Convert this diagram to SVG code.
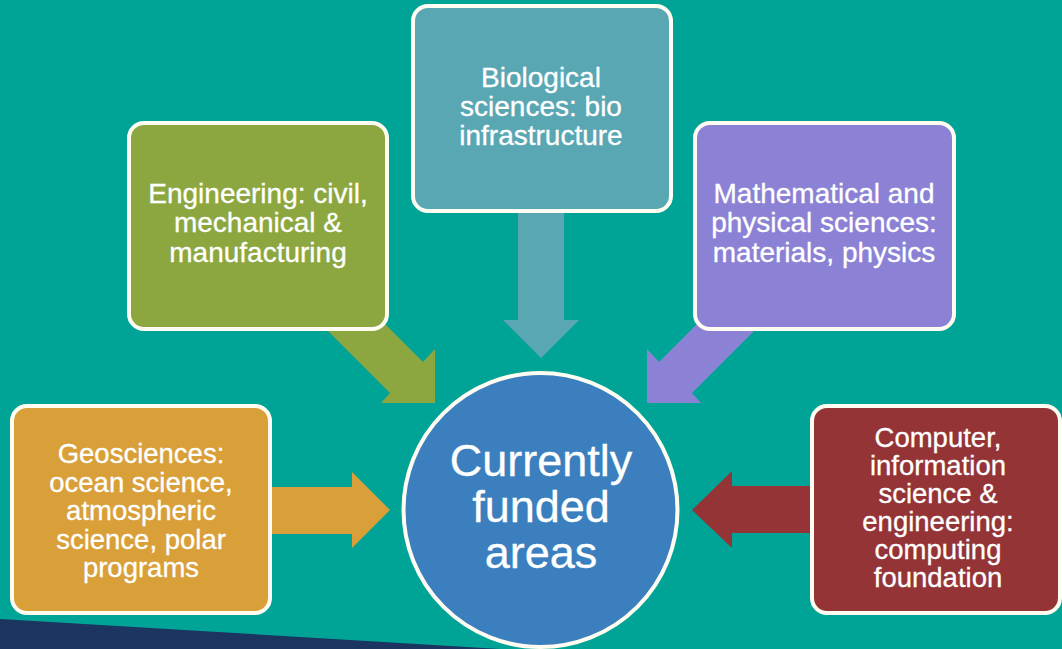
<svg xmlns="http://www.w3.org/2000/svg" width="1062" height="649" viewBox="0 0 1062 649">
  <style>
    .box { stroke: #FFFDF2; stroke-width: 4; }
    .lbl { font-family: "Liberation Sans", Arial, sans-serif; fill: #FFFFFF; stroke: #FFFFFF; stroke-width: 0.3; text-anchor: middle; }
    .s28 { font-size: 28px; }
    .s27 { font-size: 27.5px; }
    .big { font-size: 45px; }
  </style>

  <!-- backdrop -->
  <rect x="0" y="0" width="1062" height="649" fill="#00A496"/>
  <polygon points="0,619 500,649 0,649" fill="#1B3460"/>

  <!-- block arrows pointing into the hub -->
  <g id="connectors">
    <polygon id="arrow-geo" points="268,487 352,487 352,472 390,510 352,548 352,534 268,534" fill="#D9A03A"/>
    <polygon id="arrow-eng" points="317,320 381,320 423,362 435,349 435,403 381,403 390,393" fill="#8CA73F"/>
    <polygon id="arrow-bio" points="518,208 564,208 564,320 579,320 541,358 503,320 518,320" fill="#5AA7B4"/>
    <polygon id="arrow-math" points="765,320 701,320 659,362 647,349 647,403 701,403 692,393" fill="#8B82D6"/>
    <polygon id="arrow-cise" points="815,486 732,486 732,471 692,510 732,548 732,533 815,533" fill="#943436"/>
  </g>

  <g id="node-geo">
    <rect class="box" x="12" y="406" width="258" height="207" rx="15" fill="#D9A03A"/>
    <text class="lbl s27" x="141" y="463">Geosciences:</text>
    <text class="lbl s27" x="141" y="491.5">ocean science,</text>
    <text class="lbl s27" x="141" y="520">atmospheric</text>
    <text class="lbl s27" x="141" y="548.5">science, polar</text>
    <text class="lbl s27" x="141" y="577">programs</text>
  </g>

  <g id="node-eng">
    <rect class="box" x="129" y="123" width="258" height="206" rx="15" fill="#8CA73F"/>
    <text class="lbl s28" x="258" y="203">Engineering: civil,</text>
    <text class="lbl s28" x="258" y="232">mechanical &amp;</text>
    <text class="lbl s28" x="258" y="262">manufacturing</text>
  </g>

  <g id="node-bio">
    <rect class="box" x="413" y="6" width="258" height="205" rx="15" fill="#5AA7B4"/>
    <text class="lbl s28" x="541" y="87">Biological</text>
    <text class="lbl s28" x="541" y="116">sciences: bio</text>
    <text class="lbl s28" x="541" y="145">infrastructure</text>
  </g>

  <g id="node-math">
    <rect class="box" x="695" y="123" width="259" height="206" rx="15" fill="#8B82D6"/>
    <text class="lbl s28" x="824" y="203">Mathematical and</text>
    <text class="lbl s28" x="824" y="232">physical sciences:</text>
    <text class="lbl s28" x="824" y="262">materials, physics</text>
  </g>

  <g id="node-cise">
    <rect class="box" x="812" y="406" width="248" height="207" rx="15" fill="#943436"/>
    <text class="lbl s27" x="938" y="447">Computer,</text>
    <text class="lbl s27" x="938" y="475">information</text>
    <text class="lbl s27" x="938" y="503">science &amp;</text>
    <text class="lbl s27" x="938" y="531">engineering:</text>
    <text class="lbl s27" x="938" y="559">computing</text>
    <text class="lbl s27" x="938" y="587">foundation</text>
  </g>

  <g id="node-hub">
    <circle class="box" cx="540.5" cy="510" r="137" fill="#3B7FBE"/>
    <text class="lbl big" x="541" y="476">Currently</text>
    <text class="lbl big" x="541" y="522">funded</text>
    <text class="lbl big" x="541" y="568">areas</text>
  </g>
</svg>
